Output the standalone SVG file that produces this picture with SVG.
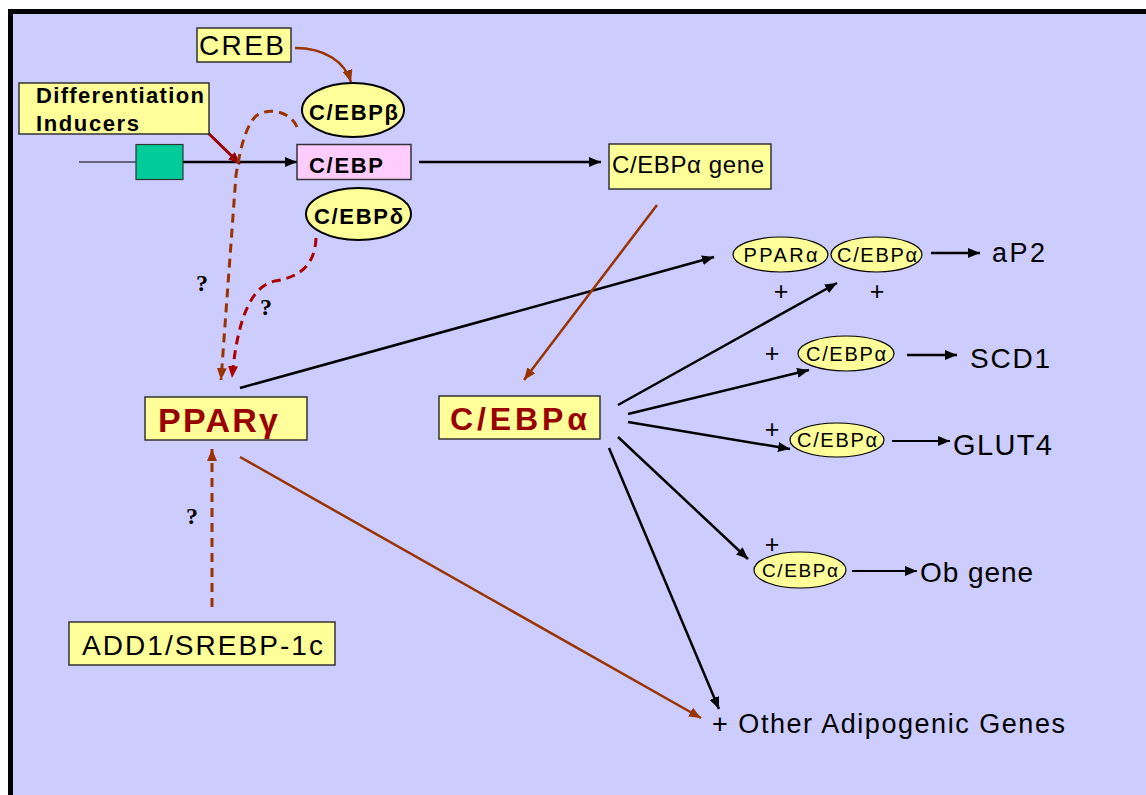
<svg xmlns="http://www.w3.org/2000/svg" width="1146" height="795" viewBox="0 0 1146 795">
<defs>
<style>
.box{fill:#FFFF99;stroke:#333333;stroke-width:1.5}
.t{font-family:"Liberation Sans",Arial,sans-serif;fill:#000}
.b{font-weight:bold}
.red{fill:#990000}
.q{font-family:"Liberation Serif","Times New Roman",serif;font-weight:bold;font-size:24px;fill:#000;text-anchor:middle}
.el{fill:#FFFF99;stroke:#000;stroke-width:1.2}
.elb{fill:#FFFF99;stroke:#000;stroke-width:2}
.blk{fill:none;stroke:#000;stroke-width:2.5}
.brn{fill:none;stroke:#993300;stroke-width:2.5}
.dsh{fill:none;stroke:#993300;stroke-width:3;stroke-dasharray:9 6}
.dsr{fill:none;stroke:#AA0000;stroke-width:3;stroke-dasharray:9 6}
.plus{font-family:"Liberation Sans",Arial,sans-serif;font-size:25px;text-anchor:middle;fill:#000}
</style>
<marker id="ab" viewBox="0 0 12 10" refX="12" refY="5" markerWidth="12" markerHeight="10" markerUnits="userSpaceOnUse" orient="auto"><path d="M0,0 L12,5 L0,10 z" fill="#000"/></marker>
<marker id="an" viewBox="0 0 12 10" refX="12" refY="5" markerWidth="12" markerHeight="10" markerUnits="userSpaceOnUse" orient="auto"><path d="M0,0 L12,5 L0,10 z" fill="#993300"/></marker>
<marker id="ar" viewBox="0 0 12 10" refX="12" refY="5" markerWidth="12" markerHeight="10" markerUnits="userSpaceOnUse" orient="auto"><path d="M0,0 L12,5 L0,10 z" fill="#990000"/></marker>
<marker id="arr" viewBox="0 0 12 10" refX="12" refY="5" markerWidth="12" markerHeight="10" markerUnits="userSpaceOnUse" orient="auto"><path d="M0,0 L12,5 L0,10 z" fill="#AA0000"/></marker>
</defs>
<rect x="0" y="0" width="1146" height="795" fill="#FFFFFF"/>
<rect x="10.5" y="11.5" width="1150" height="800" fill="#CCCCFF" stroke="#000" stroke-width="5"/>

<g id="connectors">
<line x1="79" y1="162" x2="136" y2="162" stroke="#000" stroke-width="1.2"/>
<line x1="183" y1="162" x2="297" y2="162" class="blk" marker-end="url(#ab)"/>
<line x1="419" y1="162" x2="601" y2="162" class="blk" marker-end="url(#ab)"/>
<path d="M295,48 C325,48 345,62 351,82" class="brn" marker-end="url(#an)"/>
<line x1="202" y1="127" x2="240" y2="164" stroke="#990000" stroke-width="3" marker-end="url(#ar)"/>
<path d="M297,127 C290,110 265,107 255,117 C245,128 240,150 236,175 L221,380" class="dsh" marker-end="url(#an)"/>
<path d="M316,238 C315,265 300,277 275,281 C255,285 238,310 232,378" class="dsr" marker-end="url(#arr)"/>
<line x1="212" y1="607" x2="212" y2="449" class="dsh" marker-end="url(#an)"/>
<line x1="240" y1="388" x2="714" y2="257" class="blk" marker-end="url(#ab)"/>
<line x1="657" y1="205" x2="524" y2="380" class="brn" marker-end="url(#an)"/>
<line x1="240" y1="457" x2="701" y2="718" class="brn" marker-end="url(#an)"/>
<line x1="618" y1="405" x2="837" y2="283" class="blk" marker-end="url(#ab)"/>
<line x1="628" y1="414" x2="809" y2="370" class="blk" marker-end="url(#ab)"/>
<line x1="628" y1="422" x2="790" y2="449" class="blk" marker-end="url(#ab)"/>
<line x1="618" y1="437" x2="748" y2="559" class="blk" marker-end="url(#ab)"/>
<line x1="609" y1="448" x2="719" y2="709" class="blk" marker-end="url(#ab)"/>
<line x1="931" y1="253" x2="980" y2="253" class="blk" marker-end="url(#ab)"/>
<line x1="907" y1="355" x2="957" y2="355" class="blk" marker-end="url(#ab)"/>
<line x1="892" y1="441" x2="950" y2="441" stroke="#000" stroke-width="2" marker-end="url(#ab)"/>
<line x1="852" y1="571" x2="917" y2="571" stroke="#000" stroke-width="2" marker-end="url(#ab)"/>
</g>

<g id="creb"><rect class="box" x="197" y="28" width="94" height="34"/><text class="t" x="199" y="55" font-size="28" textLength="85" lengthAdjust="spacing">CREB</text></g>
<g id="inducers"><rect class="box" x="19" y="83" width="190" height="51"/><text class="t b" x="36" y="103" font-size="22" textLength="168" lengthAdjust="spacing">Differentiation</text><text class="t b" x="36" y="131" font-size="22" textLength="103" lengthAdjust="spacing">Inducers</text></g>
<g id="promoter"><rect x="136" y="144.5" width="47" height="35" fill="#00CC99" stroke="#333" stroke-width="1.2"/></g>
<g id="cebp"><rect x="297" y="144.5" width="114" height="35" fill="#FFCCFF" stroke="#333" stroke-width="1.5"/><text class="t b" x="309" y="173" font-size="22" textLength="74" lengthAdjust="spacing">C/EBP</text></g>
<g id="cebpb"><ellipse class="elb" cx="353" cy="110" rx="51" ry="27"/><text class="t b" x="309" y="120" font-size="22" textLength="89" lengthAdjust="spacing">C/EBPβ</text></g>
<g id="cebpd"><ellipse class="elb" cx="358.5" cy="214" rx="52.5" ry="26"/><text class="t b" x="314" y="224" font-size="22" textLength="89" lengthAdjust="spacing">C/EBPδ</text></g>
<g id="cebpa-gene"><rect class="box" x="609" y="144" width="162" height="45"/><text class="t" x="612" y="173" font-size="24" textLength="152" lengthAdjust="spacing">C/EBPα gene</text></g>
<g id="ppar-gamma"><rect class="box" x="145" y="397" width="162" height="43"/><text class="t b red" x="158" y="432" font-size="34" textLength="120" lengthAdjust="spacing">PPARγ</text></g>
<g id="cebpa"><rect class="box" x="439" y="396" width="161" height="43"/><text class="t b red" x="450" y="430" font-size="32" textLength="137" lengthAdjust="spacing">C/EBPα</text></g>
<g id="add1"><rect class="box" x="69" y="622" width="266" height="43"/><text class="t" x="82" y="655" font-size="28" textLength="241" lengthAdjust="spacing">ADD1/SREBP-1c</text></g>

<g id="q-labels"><text class="q" x="202" y="291">?</text><text class="q" x="266" y="315">?</text><text class="q" x="192" y="524">?</text></g>

<g id="ap2-complex">
<ellipse class="el" cx="780.5" cy="254.5" rx="47.5" ry="17.5"/><text class="t" x="780.5" y="262" font-size="20" text-anchor="middle" textLength="74" lengthAdjust="spacing">PPARα</text>
<ellipse class="el" cx="876.5" cy="254.5" rx="45.5" ry="17.5"/><text class="t" x="877" y="262" font-size="20" text-anchor="middle" textLength="80" lengthAdjust="spacing">C/EBPα</text>
<text class="plus" x="781" y="300">+</text><text class="plus" x="877" y="300">+</text>
</g>
<g id="ap2"><text class="t" x="992" y="262" font-size="27" textLength="53" lengthAdjust="spacing">aP2</text></g>
<g id="scd1-site"><text class="plus" x="772" y="362">+</text><ellipse class="el" cx="846" cy="353.5" rx="48" ry="17.5"/><text class="t" x="846" y="361" font-size="20" text-anchor="middle" textLength="80" lengthAdjust="spacing">C/EBPα</text></g>
<g id="scd1"><text class="t" x="970" y="368" font-size="28" textLength="80" lengthAdjust="spacing">SCD1</text></g>
<g id="glut4-site"><text class="plus" x="772" y="438">+</text><ellipse class="el" cx="837" cy="440" rx="47" ry="17"/><text class="t" x="837" y="447" font-size="20" text-anchor="middle" textLength="80" lengthAdjust="spacing">C/EBPα</text></g>
<g id="glut4"><text class="t" x="953" y="455" font-size="29" textLength="99" lengthAdjust="spacing">GLUT4</text></g>
<g id="ob-site"><text class="plus" x="772" y="553">+</text><ellipse class="el" cx="800" cy="570" rx="46" ry="18"/><text class="t" x="800" y="577" font-size="19" text-anchor="middle" textLength="76" lengthAdjust="spacing">C/EBPα</text></g>
<g id="ob-gene"><text class="t" x="920" y="582" font-size="28" textLength="113" lengthAdjust="spacing">Ob gene</text></g>
<g id="other"><text class="t" x="712" y="733" font-size="27" textLength="353" lengthAdjust="spacing">+ Other Adipogenic Genes</text></g>
</svg>
